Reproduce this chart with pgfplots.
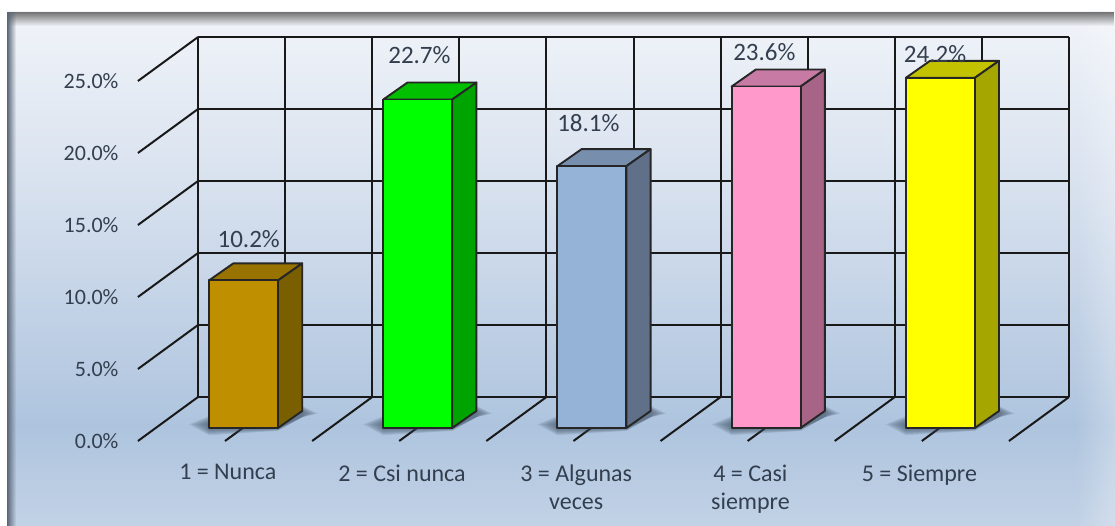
\documentclass[border=0pt]{standalone}
\usepackage{fontspec}
\setmainfont{Carlito}
\usepackage{pgfplots}
\pgfplotsset{compat=1.18}
\usetikzlibrary{fadings}

\definecolor{txt}{HTML}{333F4F}
\definecolor{shadowc}{HTML}{3A4A60}
\definecolor{edgec}{HTML}{5A6676}
\definecolor{p0}{HTML}{F1F4F9}
\definecolor{p1}{HTML}{D6E0EE}
\definecolor{p2}{HTML}{AEC4DE}
\definecolor{p3}{HTML}{C2D2E6}

% front, side and top of the bars
\definecolor{f1}{HTML}{BF8F00}\definecolor{s1}{HTML}{7A5F00}\definecolor{t1}{HTML}{997300}
\definecolor{f2}{HTML}{00FF00}\definecolor{s2}{HTML}{00A400}\definecolor{t2}{HTML}{00C000}
\definecolor{f3}{HTML}{95B3D7}\definecolor{s3}{HTML}{5F7088}\definecolor{t3}{HTML}{778FAC}
\definecolor{f4}{HTML}{FF99CC}\definecolor{s4}{HTML}{A86487}\definecolor{t4}{HTML}{C77AA3}
\definecolor{f5}{HTML}{FFFF00}\definecolor{s5}{HTML}{A6A600}\definecolor{t5}{HTML}{C2C200}

% soft shadow: category, spread (0..1)
\newcommand{\sombra}[2]{%
  \pgfmathsetmacro\sa{#1-0.198}%
  \pgfmathsetmacro\sb{#1+0.198}%
  \pgfmathsetmacro\sc{#1+0.337}%
  \pgfmathsetmacro\sd{#1-0.059}%
  \pgfmathsetmacro\se{\sa-0.115*#2}%
  \pgfmathsetmacro\sf{\sc+0.09*#2}%
  \pgfmathsetmacro\la{-0.5*#2}%
  \pgfmathsetmacro\lb{-0.2*#2}%
  \pgfmathsetmacro\ha{1.175+0.35*#2}%
  \addplot[fill=shadowc,fill opacity=0.13,draw=none] coordinates {(\se,0.25) (\sa,\la) (\sb,\lb) (\sc,0.75) (\sf,1.0) (\sc,\ha) (\sd,\ha)} --cycle;
}
% category, value, front, side, top
\newcommand{\barra}[5]{%
  \sombra{#1}{1.0}\sombra{#1}{0.85}\sombra{#1}{0.7}\sombra{#1}{0.55}\sombra{#1}{0.4}\sombra{#1}{0.25}\sombra{#1}{0.1}%
  \pgfmathsetmacro\xa{#1-0.198}%
  \pgfmathsetmacro\xb{#1+0.198}%
  \pgfmathsetmacro\xc{#1+0.198+0.139}%
  \pgfmathsetmacro\xd{#1-0.198+0.139}%
  \pgfmathsetmacro\yd{#2+1.175}%
  \addplot[fill=#5,edge] coordinates {(\xa,#2) (\xb,#2) (\xc,\yd) (\xd,\yd)} --cycle;
  \addplot[fill=#4,edge] coordinates {(\xb,0) (\xc,1.175) (\xc,\yd) (\xb,#2)} --cycle;
  \addplot[ybar,bar width=0.396,bar shift=0pt,fill=#3,edge] coordinates {(#1,#2)};
}

\begin{document}
\begin{tikzpicture}[x=1pt,y=1pt]
\path[use as bounding box] (0,0) rectangle (1115,526);
\fill[white] (0,0) rectangle (1115,526);
% panel
\shade[top color=p0,bottom color=p1] (7,330) rectangle (1115,514);
\shade[top color=p1,bottom color=p2] (7,100) rectangle (1115,330.2);
\shade[top color=p2,bottom color=p3] (7,0) rectangle (1115,100.2);
\fill[white,fill opacity=0.28,path fading=west] (1075,0) rectangle (1115,514);
\fill[black!55,path fading=south] (7,500) rectangle (1115,514);
\fill[edgec,path fading=east] (7,0) rectangle (16,514);

\begin{axis}[
    at={(138pt,85pt)}, anchor=south west,
    scale only axis, width=871pt, height=361.7pt,
    xmin=0.3944, xmax=5.3944,
    ymin=-0.898, ymax=24.1,
    clip=false,
    axis line style={draw=none},
    major tick length=0pt,
    xtick={0.91,1.91,2.91,3.91,4.88},
    xticklabels={1 = Nunca,2 = Csi nunca,{3 = Algunas\\veces},{4 = Casi\\siempre},5 = Siempre},
    ytick={-0.898,4.078,9.053,14.03,19.006,23.98},
    yticklabels={0.0\%,5.0\%,10.0\%,15.0\%,20.0\%,25.0\%},
    yticklabel style={font=\fontsize{22}{28}\selectfont,text=txt,anchor=east,xshift=-16pt},
    xticklabel style={font=\fontsize{24}{28}\selectfont,text=txt,align=center,anchor=north,yshift=-20pt},
    edge/.style={draw=black!85,line width=1.9pt,line join=round},
    wall/.style={draw=black!90,line width=2pt,unbounded coords=jump},
]
% back wall
\addplot[wall] coordinates {
  (0.739,2.142) (0.739,27.02) (nan,nan) (1.239,2.142) (1.239,27.02) (nan,nan)
  (1.739,2.142) (1.739,27.02) (nan,nan) (2.239,2.142) (2.239,27.02) (nan,nan)
  (2.739,2.142) (2.739,27.02) (nan,nan) (3.239,2.142) (3.239,27.02) (nan,nan)
  (3.739,2.142) (3.739,27.02) (nan,nan) (4.239,2.142) (4.239,27.02) (nan,nan)
  (4.739,2.142) (4.739,27.02) (nan,nan) (5.239,2.142) (5.239,27.02) (nan,nan)
  (5.739,2.142) (5.739,27.02)};
\addplot[wall] coordinates {
  (0.739,2.142) (5.739,2.142) (nan,nan) (0.739,7.118) (5.739,7.118) (nan,nan)
  (0.739,12.094) (5.739,12.094) (nan,nan) (0.739,17.07) (5.739,17.07) (nan,nan)
  (0.739,22.046) (5.739,22.046) (nan,nan) (0.739,27.02) (5.739,27.02)};
% diagonals on the left side and on the floor
\addplot[wall] coordinates {
  (0.394,-0.898) (0.739,2.142) (nan,nan) (0.394,4.078) (0.739,7.118) (nan,nan)
  (0.394,9.053) (0.739,12.094) (nan,nan) (0.394,14.03) (0.739,17.07) (nan,nan)
  (0.394,19.006) (0.739,22.046) (nan,nan) (0.394,23.98) (0.739,27.02) (nan,nan)
  (0.894,-0.898) (1.239,2.142) (nan,nan) (1.394,-0.898) (1.739,2.142) (nan,nan)
  (1.894,-0.898) (2.239,2.142) (nan,nan) (2.394,-0.898) (2.739,2.142) (nan,nan)
  (2.894,-0.898) (3.239,2.142) (nan,nan) (3.394,-0.898) (3.739,2.142) (nan,nan)
  (3.894,-0.898) (4.239,2.142) (nan,nan) (4.394,-0.898) (4.739,2.142) (nan,nan)
  (4.894,-0.898) (5.239,2.142) (nan,nan) (5.394,-0.898) (5.739,2.142)};
% value labels, behind the bars
\addplot[only marks,mark=none,text=txt,point meta=explicit symbolic,
  nodes near coords,
  every node near coord/.style={font=\fontsize{25}{28}\selectfont,text=txt,anchor=center,inner sep=0pt}]
  coordinates {(1.03,13.03)[10.2\%] (2.01,25.75)[22.7\%] (2.98,21.1)[18.1\%] (3.99,25.95)[23.6\%] (4.97,25.85)[24.2\%]};
% bars
\barra{1}{10.2}{f1}{s1}{t1}
\barra{2}{22.7}{f2}{s2}{t2}
\barra{3}{18.1}{f3}{s3}{t3}
\barra{4}{23.6}{f4}{s4}{t4}
\barra{5}{24.2}{f5}{s5}{t5}
\end{axis}
\end{tikzpicture}
\end{document}
